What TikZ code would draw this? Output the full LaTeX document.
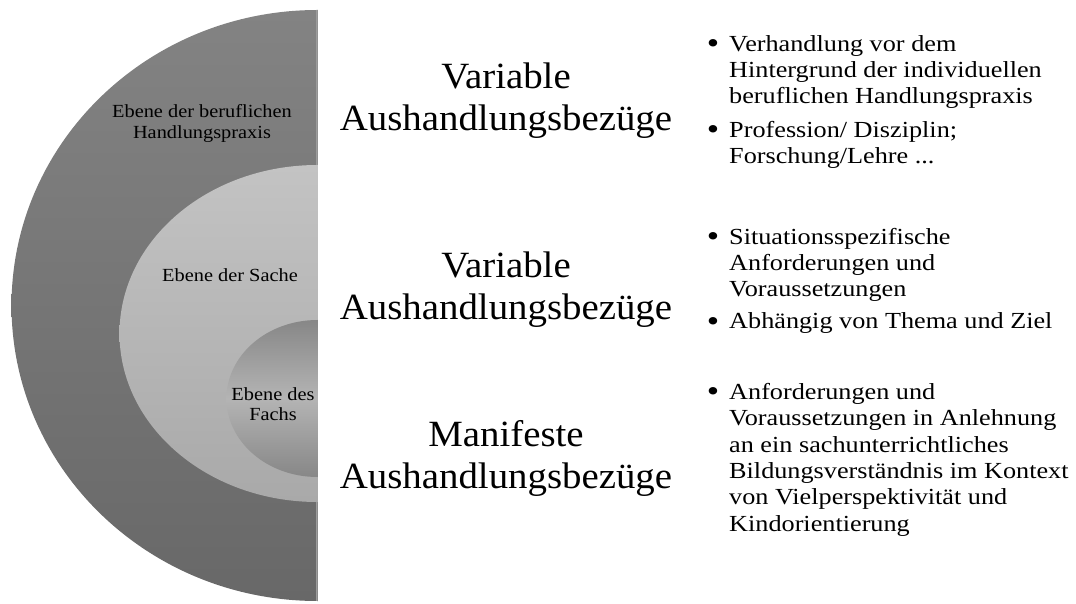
\documentclass[tikz,border=0pt]{standalone}
\usepackage{fontspec}
\setmainfont{Liberation Serif}
\newfontfamily\headfont[FakeStretch=1.05]{Liberation Serif}
\newfontfamily\itemfont[FakeStretch=1.14]{Liberation Serif}
\newfontfamily\ringfont[FakeStretch=1.10]{Liberation Serif}
\definecolor{outerTop}{HTML}{838383}
\definecolor{outerBot}{HTML}{686868}
\definecolor{midTop}{HTML}{C3C3C3}
\definecolor{midBot}{HTML}{A9A9A9}
\definecolor{innEdge}{HTML}{878787}
\definecolor{innMid}{HTML}{B4B4B4}
\definecolor{rimLight}{HTML}{9C9C9C}
\newcommand\itembullet{\llap{\raisebox{-2.2pt}{\fontsize{31}{0}\selectfont\textbullet}\hspace{10pt}}}
\begin{document}
\begin{tikzpicture}[x=1pt,y=1pt,
  head/.style={anchor=base, align=center, inner sep=0pt,
    font=\headfont\fontsize{37}{42}\selectfont},
  item/.style={anchor=base west, align=left, inner sep=0pt,
    font=\itemfont\fontsize{23}{26.3}\selectfont},
  ring/.style={anchor=base, align=center, inner sep=0pt,
    font=\ringfont\fontsize{18.5}{20.5}\selectfont}]
\useasboundingbox (0,0) rectangle (1076,603);

% three nested half ellipses, cut off at the vertical edge x = 317.5
\begin{scope}
  \clip (0,0) rectangle (317.5,603);
  \path[top color=outerTop, bottom color=outerBot]
    (317.5,297.5) ellipse [x radius=306, y radius=295.5];
  \begin{scope}
    \clip (317.5,297.5) ellipse [x radius=306, y radius=295.5];
    \fill[rimLight] (315.5,0) rectangle (317.5,603);
  \end{scope}
  \path[top color=midTop, bottom color=midBot]
    (317.5,269.5) ellipse [x radius=198, y radius=168.5];
  \path[top color=innEdge, bottom color=innEdge, middle color=innMid]
    (317.5,204.5) ellipse [x radius=91, y radius=78.5];
\end{scope}

% ring labels (anchored at the baseline of their last line)
\node[ring] (praxis) at (202,464.7) {Ebene der beruflichen\\Handlungspraxis};
\node[ring] (sache) at (230,321.3) {Ebene der Sache};
\node[ring] (fach) at (273,182.3) {Ebene des\\Fachs};

% headings
\node[head] (h1) at (506,472) {Variable\\Aushandlungsbezüge};
\node[head] (h2) at (506,283) {Variable\\Aushandlungsbezüge};
\node[head] (h3) at (506,115) {Manifeste\\Aushandlungsbezüge};

% bullet points
\node[item] (b1) at (729,499) {\itembullet Verhandlung vor dem\\Hintergrund der individuellen\\beruflichen Handlungspraxis};
\node[item] (b2) at (729,439.5) {\itembullet Profession/ Disziplin;\\Forschung/Lehre ...};
\node[item] (b3) at (729,306) {\itembullet Situationsspezifische\\Anforderungen und\\Voraussetzungen};
\node[item] (b4) at (729,274) {\itembullet Abhängig von Thema und Ziel};
\node[item] (b5) at (729,72) {\itembullet Anforderungen und\\Voraussetzungen in Anlehnung\\an ein sachunterrichtliches\\Bildungsverständnis im Kontext\\von Vielperspektivität und\\Kindorientierung};
\end{tikzpicture}
\end{document}
